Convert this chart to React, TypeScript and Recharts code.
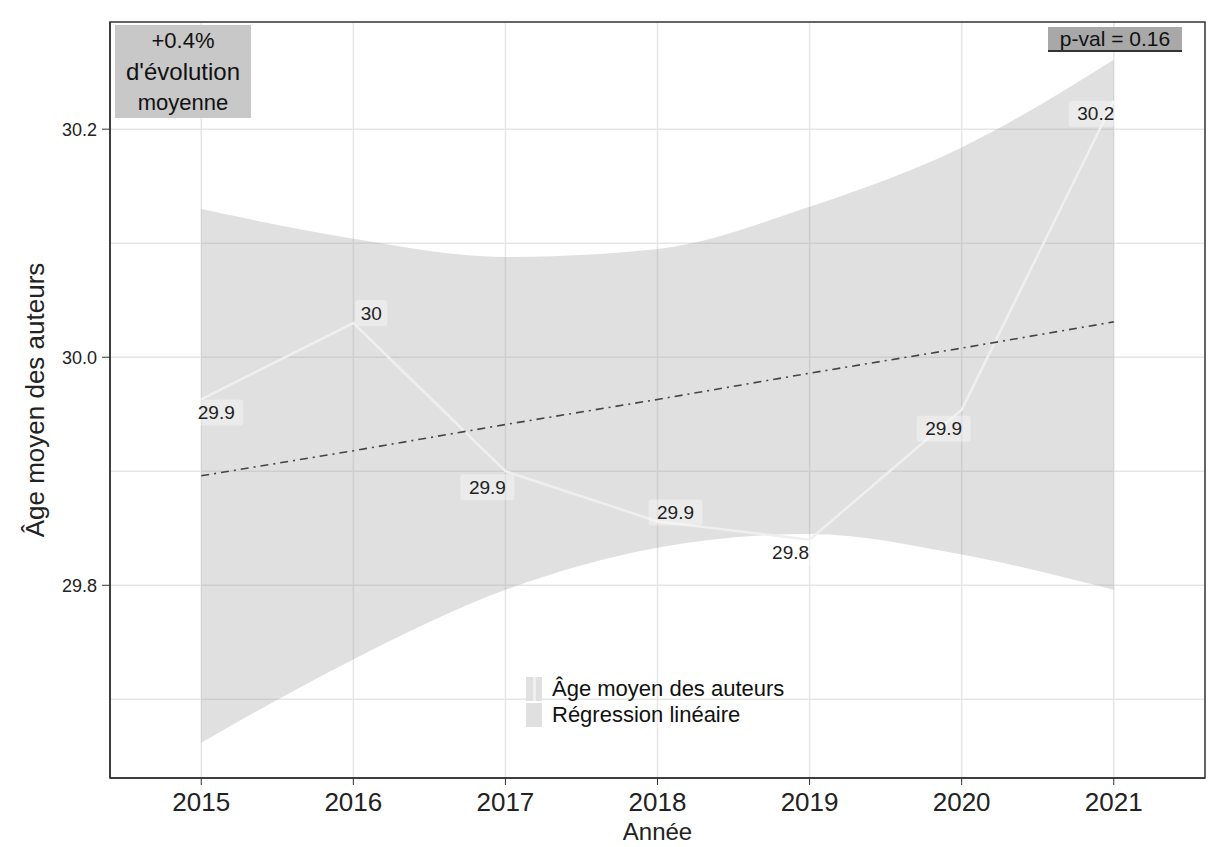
import {
  ComposedChart,
  Line,
  Area,
  XAxis,
  YAxis,
  CartesianGrid,
  ReferenceArea,
} from "recharts";

const years = [2015, 2016, 2017, 2018, 2019, 2020, 2021];
const ageMoyen = [29.963, 30.03, 29.9, 29.856, 29.84, 29.954, 30.225];
const ageLabels = ["29.9", "30", "29.9", "29.9", "29.8", "29.9", "30.2"];
const regression = [29.896, 29.918, 29.941, 29.963, 29.986, 30.008, 30.031];
const ciLow = [29.662, 29.735, 29.796, 29.833, 29.845, 29.827, 29.796];
const ciHigh = [30.13, 30.104, 30.088, 30.095, 30.132, 30.184, 30.261];
const yTicks = [29.8, 30.0, 30.2];
const yGrid = [29.7, 29.8, 29.9, 30.0, 30.1, 30.2];

// ggrepel-like nudges for the point labels (px)
const labelNudge = [
  [15, 13],
  [18, -10],
  [-18, 16],
  [18, -9],
  [-19, 13],
  [-18, 19],
  [-18, 13],
];

const FONT = "'Liberation Sans', Arial, sans-serif";
const X_DOMAIN = [2014.4, 2021.6];
const Y_DOMAIN = [29.631, 30.294];

const chartData = years.map((year, i) => ({
  year,
  age: ageMoyen[i],
  reg: regression[i],
  ci: [ciLow[i], ciHigh[i]],
}));

function PointLabel(props: any) {
  const { x, y, index } = props;
  if (x == null || y == null) return null;
  const [dx, dy] = labelNudge[index] || [0, 0];
  const text = ageLabels[index];
  const w = text.length * 11 + 10;
  const cx = x + dx;
  const cy = y + dy;
  return (
    <g>
      <rect x={cx - w / 2} y={cy - 13} width={w} height={26} rx={3} fill="#ffffff" fillOpacity={0.35} />
      <text
        x={cx}
        y={cy}
        textAnchor="middle"
        dominantBaseline="central"
        fontSize={19}
        fontFamily={FONT}
        fill="#222"
      >
        {text}
      </text>
    </g>
  );
}

export default function App() {
  return (
    <div style={{ position: "absolute", left: 0, top: 0, width: 1209, height: 847, background: "#fff", fontFamily: FONT }}>
      <ComposedChart
        width={1209}
        height={847}
        data={chartData}
        margin={{ top: 22, right: 4, bottom: 0, left: 0 }}
      >
        <CartesianGrid
          stroke="#e6e6e6"
          strokeWidth={1.5}
          horizontalValues={yGrid}
          verticalValues={years}
        />
        <XAxis
          dataKey="year"
          type="number"
          domain={X_DOMAIN}
          ticks={years}
          allowDataOverflow
          height={69}
          tickSize={7}
          tickMargin={8}
          tickLine={{ stroke: "#333" }}
          axisLine={{ stroke: "#333", strokeWidth: 1.5 }}
          tick={{ fontSize: 26, fill: "#222", fontFamily: FONT }}
          label={{
            value: "Année",
            position: "insideBottom",
            offset: 7,
            style: { fontSize: 24, fill: "#222", fontFamily: FONT },
          }}
        />
        <YAxis
          type="number"
          domain={Y_DOMAIN}
          ticks={yTicks}
          allowDataOverflow
          width={110}
          tickSize={8}
          tickMargin={5}
          tickLine={{ stroke: "#333" }}
          axisLine={{ stroke: "#333", strokeWidth: 1.5 }}
          tickFormatter={(v: number) => v.toFixed(1)}
          tick={{ fontSize: 18, fill: "#222", fontFamily: FONT }}
          label={{
            value: "Âge moyen des auteurs",
            angle: -90,
            position: "insideLeft",
            offset: 35,
            style: { fontSize: 26, fill: "#222", fontFamily: FONT, textAnchor: "middle" },
          }}
        />
        <Area
          type="monotone"
          dataKey="ci"
          stroke="none"
          fill="#999999"
          fillOpacity={0.3}
          isAnimationActive={false}
        />
        <Line
          type="linear"
          dataKey="age"
          stroke="#efefef"
          strokeWidth={2.5}
          dot={false}
          isAnimationActive={false}
          label={<PointLabel />}
        />
        <Line
          type="linear"
          dataKey="reg"
          stroke="#444"
          strokeWidth={1.6}
          strokeDasharray="8 5 2 5"
          dot={false}
          isAnimationActive={false}
        />
        <ReferenceArea
          x1={X_DOMAIN[0]}
          x2={X_DOMAIN[1]}
          y1={Y_DOMAIN[0]}
          y2={Y_DOMAIN[1]}
          fill="none"
          stroke="#333"
          strokeWidth={1.5}
          ifOverflow="visible"
        />
      </ComposedChart>

      {/* top-left annotation */}
      <div
        style={{
          position: "absolute",
          left: 115,
          top: 25,
          width: 136,
          height: 93,
          background: "#c8c8c8",
          display: "flex",
          flexDirection: "column",
          alignItems: "center",
          justifyContent: "center",
          fontSize: 22,
          lineHeight: "31px",
          color: "#111",
        }}
      >
        <div>+0.4%</div>
        <div style={{ fontSize: 24 }}>d'évolution</div>
        <div>moyenne</div>
      </div>

      {/* top-right p-value */}
      <div
        style={{
          position: "absolute",
          left: 1048,
          top: 27,
          width: 134,
          height: 25,
          background: "#a8a8a8",
          borderBottom: "2px solid #333",
          boxSizing: "border-box",
          display: "flex",
          alignItems: "center",
          justifyContent: "center",
          fontSize: 21,
          color: "#111",
          whiteSpace: "nowrap",
        }}
      >
        p-val = 0.16
      </div>

      {/* legend */}
      <div style={{ position: "absolute", left: 526, top: 676, fontSize: 22, color: "#111", whiteSpace: "nowrap" }}>
        <div style={{ display: "flex", alignItems: "center", height: 26 }}>
          <span style={{ width: 16, height: 24, background: "#e0e0e0", display: "inline-block", marginRight: 10, position: "relative" }}>
            <span style={{ position: "absolute", left: 7, top: 0, width: 3, height: 24, background: "#efefef" }} />
          </span>
          Âge moyen des auteurs
        </div>
        <div style={{ display: "flex", alignItems: "center", height: 26 }}>
          <span style={{ width: 16, height: 24, background: "#e0e0e0", display: "inline-block", marginRight: 10 }} />
          Régression linéaire
        </div>
      </div>
    </div>
  );
}
